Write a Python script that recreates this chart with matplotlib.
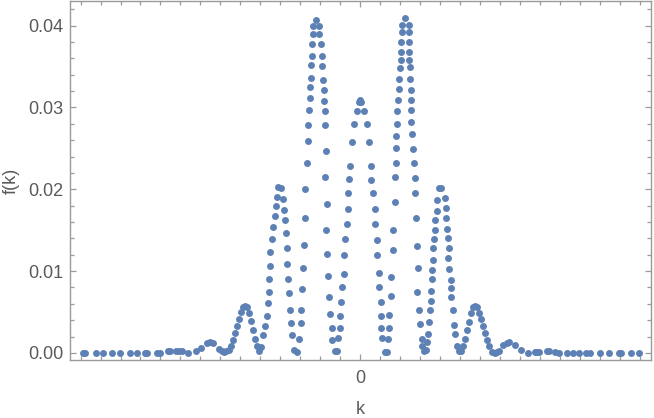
import numpy as np
import matplotlib
matplotlib.use("Agg")
import matplotlib.pyplot as plt

# values (k in units of one minor tick)
k_left = [-13.89, -13.76, -13.23, -12.89, -12.43, -12.03, -11.53, -11.19, -10.76, -10.66,
          -10.16, -10.03, -9.63, -9.53, -9.23, -9.09, -8.93, -8.63, -8.23, -7.99,
          -7.66, -7.51, -7.38, -7.08, -6.93, -6.83, -6.73, -6.59, -6.49, -6.39,
          -6.29, -6.19, -6.09, -5.99, -5.89, -5.79, -5.69, -5.56, -5.46, -5.36,
          -5.26, -5.16, -5.06, -4.96, -4.86, -4.76, -4.69, -4.63, -4.59, -4.56,
          -4.53, -4.50, -4.43, -4.36, -4.29, -4.23, -4.19, -4.13, -3.99, -3.89,
          -3.83, -3.79, -3.73, -3.69, -3.66, -3.61, -3.56, -3.51, -3.46, -3.41,
          -3.33, -3.19]
f_left = [0.0, 0.0, 0.0, 0.0, 0.0, 0.0, 0.0, 0.0, 0.0, 0.0,
          0.0, 0.0, 0.0002, 0.0002, 0.0003, 0.0002, 0.0002, 0.0, 0.0002, 0.0006,
          0.0012, 0.0013, 0.0012, 0.0005, 0.0002, 0.0001, 0.0002, 0.0004, 0.0009, 0.0016,
          0.0024, 0.0033, 0.0042, 0.0050, 0.0056, 0.0057, 0.0056, 0.0049, 0.0039, 0.0028,
          0.0017, 0.0008, 0.0002, 0.0007, 0.0022, 0.0033, 0.0045, 0.0061, 0.0074, 0.0090,
          0.0106, 0.0123, 0.0139, 0.0154, 0.0167, 0.0179, 0.0190, 0.0203, 0.0201, 0.0188,
          0.0175, 0.0163, 0.0147, 0.0128, 0.0109, 0.0090, 0.0073, 0.0053, 0.0037, 0.0022,
          0.0004, 0.0001]

k_center = [-3.09, -2.99, -2.98, -2.91, -2.89, -2.83, -2.79, -2.76, -2.69, -2.63,
            -2.61, -2.56, -2.53, -2.51, -2.49, -2.46, -2.43, -2.41, -2.39, -2.38,
            -2.23, -2.09, -2.06, -1.99, -1.93, -1.92, -1.89, -1.83, -1.82, -1.79,
            -1.78, -1.73, -1.78, -1.69, -1.71, -1.66, -1.63, -1.59, -1.53, -1.43,
            -1.42, -1.29, -1.19, -1.13, -1.03, -1.02, -0.96, -0.93, -0.83, -0.82,
            -0.76, -0.69, -0.63, -0.62, -0.56, -0.53, -0.43, -0.33, -0.19, -0.09,
            -0.03, 0.04, 0.18, 0.31, 0.41, 0.51, 0.54, 0.61, 0.71, 0.72,
            0.81, 0.82, 0.91, 0.92, 1.01, 1.02, 1.04, 1.08, 1.21, 1.31,
            1.38, 1.41, 1.44, 1.51, 1.54, 1.61, 1.64, 1.71, 1.74, 1.78,
            1.79, 1.80, 1.81, 1.84, 1.88, 1.91, 1.94, 1.98, 2.01, 2.04,
            2.05, 2.08, 2.09, 2.24, 2.41, 2.42, 2.44, 2.43, 2.45, 2.48,
            2.49, 2.51, 2.52, 2.54, 2.55, 2.56, 2.61, 2.68, 2.71, 2.74,
            2.78, 2.81, 2.88, 2.84, 2.94, 2.98, 3.08, 3.09, 3.18, 3.28]
f_center = [0.0017, 0.0037, 0.0053, 0.0078, 0.0104, 0.0132, 0.0165, 0.0200, 0.0232, 0.0259,
            0.0279, 0.0297, 0.0311, 0.0325, 0.0336, 0.0352, 0.0363, 0.0377, 0.0390, 0.0399,
            0.0407, 0.0399, 0.0390, 0.0377, 0.0363, 0.0350, 0.0334, 0.0321, 0.0308, 0.0295,
            0.0279, 0.0247, 0.0215, 0.0182, 0.0150, 0.0121, 0.0094, 0.0068, 0.0047, 0.0030,
            0.0016, 0.0002, 0.0002, 0.0018, 0.0030, 0.0045, 0.0062, 0.0080, 0.0097, 0.0120,
            0.0139, 0.0158, 0.0176, 0.0196, 0.0212, 0.0229, 0.0258, 0.0280, 0.0295, 0.0306,
            0.0309, 0.0306, 0.0295, 0.0280, 0.0258, 0.0229, 0.0211, 0.0196, 0.0176, 0.0158,
            0.0138, 0.0120, 0.0098, 0.0080, 0.0062, 0.0045, 0.0030, 0.0018, 0.0001, 0.0001,
            0.0017, 0.0030, 0.0046, 0.0070, 0.0093, 0.0126, 0.0150, 0.0184, 0.0215, 0.0232,
            0.0250, 0.0265, 0.0280, 0.0295, 0.0309, 0.0322, 0.0335, 0.0348, 0.0358, 0.0368,
            0.0380, 0.0392, 0.0401, 0.0409, 0.0401, 0.0392, 0.0380, 0.0368, 0.0358, 0.0349,
            0.0335, 0.0321, 0.0309, 0.0297, 0.0282, 0.0268, 0.0249, 0.0232, 0.0214, 0.0196,
            0.0165, 0.0131, 0.0104, 0.0074, 0.0052, 0.0035, 0.0017, 0.0009, 0.0003, 0.0004]

k_right = [3.31, 3.38, 3.44, 3.48, 3.51, 3.52, 3.58, 3.59, 3.61, 3.64,
           3.68, 3.71, 3.74, 3.81, 3.84, 3.91, 4.04, 4.21, 4.28, 4.29,
           4.34, 4.38, 4.41, 4.40, 4.44, 4.51, 4.54, 4.55, 4.61, 4.68,
           4.74, 4.81, 4.93, 5.04, 5.15, 5.24, 5.34, 5.44, 5.54, 5.64,
           5.74, 5.84, 5.94, 6.04, 6.14, 6.24, 6.34, 6.44, 6.58, 6.71,
           6.84, 6.94, 7.14, 7.31, 7.44, 7.74, 8.01, 8.39, 8.71, 8.84,
           8.91, 9.34, 9.44, 9.74, 9.91, 10.31, 10.64, 10.94, 11.28, 11.48,
           11.98, 12.41, 12.91, 13.04, 13.51, 13.91]
f_right = [0.0013, 0.0023, 0.0038, 0.0052, 0.0064, 0.0076, 0.0090, 0.0101, 0.0113, 0.0128,
           0.0139, 0.0150, 0.0162, 0.0174, 0.0187, 0.0201, 0.0202, 0.0189, 0.0177, 0.0165,
           0.0152, 0.0140, 0.0128, 0.0116, 0.0102, 0.0089, 0.0079, 0.0068, 0.0052, 0.0034,
           0.0023, 0.0008, 0.0002, 0.0002, 0.0009, 0.0017, 0.0028, 0.0038, 0.0049, 0.0056,
           0.0057, 0.0056, 0.0049, 0.0042, 0.0033, 0.0024, 0.0016, 0.0009, 0.0001, 0.0,
           0.0001, 0.0002, 0.0010, 0.0012, 0.0013, 0.0010, 0.0004, 0.0, 0.0001, 0.0001,
           0.0001, 0.0002, 0.0002, 0.0001, 0.0, 0.0, 0.0, 0.0, 0.0, 0.0,
           0.0, 0.0, 0.0, 0.0, 0.0, 0.0]

k = np.array(k_left + k_center + k_right)
f = np.array(f_left + f_center + f_right)

gray = "#5a5a5a"
plt.rcParams["font.family"] = ["Liberation Sans", "DejaVu Sans"]

fig = plt.figure(figsize=(6.54, 4.18), dpi=100)
ax = fig.add_axes([70 / 654, 1 - 360 / 418, 581 / 654, 359 / 418])

ax.scatter(k, f, s=25, color="#5E81B5", linewidths=0, zorder=3)

ax.set_xlim(-14.525, 14.525)
ax.set_ylim(-0.00086, 0.0430)

ax.set_xticks([0])
ax.set_xticklabels(["0"])
ax.set_xticks(np.arange(-14, 15), minor=True)
ax.set_yticks([0, 0.01, 0.02, 0.03, 0.04])
ax.set_yticklabels(["0.00", "0.01", "0.02", "0.03", "0.04"])
ax.set_yticks(np.arange(0, 0.043, 0.002), minor=True)

for side in ax.spines.values():
    side.set_color("#9a9a9a")
    side.set_linewidth(1.0)

ax.tick_params(which="both", direction="in", top=True, right=True, colors="#9a9a9a",
               labelcolor=gray, labelsize=13)
ax.tick_params(which="major", length=4.5, width=0.9)
ax.tick_params(which="minor", length=2.8, width=0.9)
ax.tick_params(axis="x", which="major", pad=7)
ax.tick_params(axis="y", which="major", pad=5)

ax.set_xlabel("k", color=gray, fontsize=13, labelpad=10)
ax.set_ylabel("f(k)", color=gray, fontsize=13, labelpad=6)

fig.savefig("out.png", dpi=100)
